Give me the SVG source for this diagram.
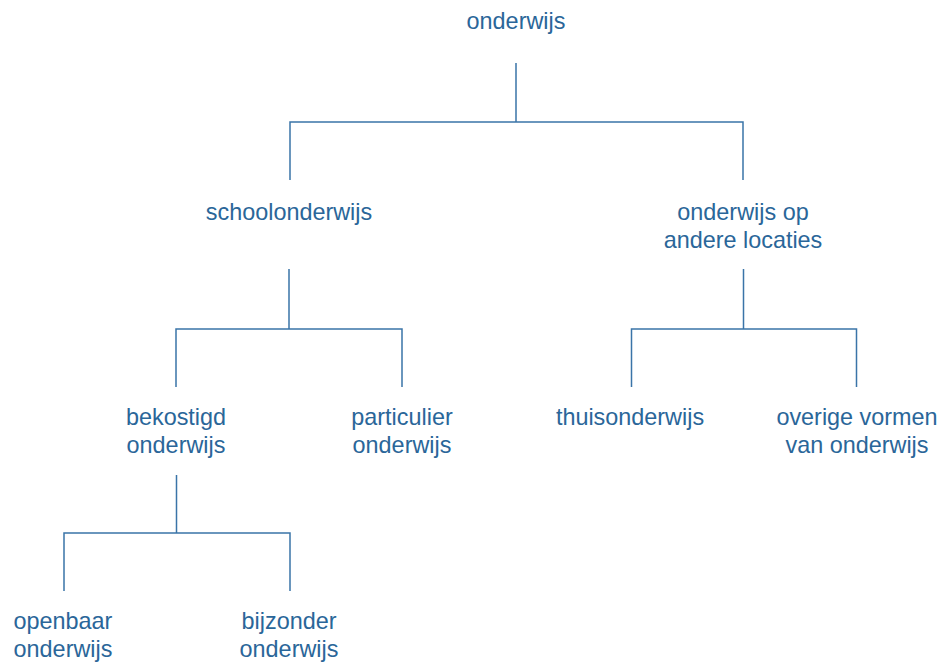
<svg xmlns="http://www.w3.org/2000/svg" width="950" height="666" viewBox="0 0 950 666">
<style>
text{font-family:"Liberation Sans",Arial,sans-serif;font-size:23.4px;fill:#2a6699;text-anchor:middle}
.c{stroke:#3a74a8;stroke-width:1.5;fill:none}
</style>
<rect width="950" height="666" fill="#ffffff"/>
<g id="connectors">
<path class="c" d="M516 63V122M290 180V122H743V180"/>
<path class="c" d="M289 269V329M176 387V329H402V387"/>
<path class="c" d="M743.5 269V329M631.5 387V329H856.5V387"/>
<path class="c" d="M176.5 475V533M64 591V533H290V591"/>
</g>
<g id="n-onderwijs"><text x="516" y="29">onderwijs</text></g>
<g id="n-schoolonderwijs"><text x="289" y="220">schoolonderwijs</text></g>
<g id="n-andere"><text x="743" y="220">onderwijs op</text><text x="743" y="248">andere locaties</text></g>
<g id="n-bekostigd"><text x="176" y="425">bekostigd</text><text x="176" y="453">onderwijs</text></g>
<g id="n-particulier"><text x="402" y="425">particulier</text><text x="402" y="453">onderwijs</text></g>
<g id="n-thuis"><text x="630" y="425">thuisonderwijs</text></g>
<g id="n-overige"><text x="857" y="425">overige vormen</text><text x="857" y="453">van onderwijs</text></g>
<g id="n-openbaar"><text x="63" y="629">openbaar</text><text x="63" y="657">onderwijs</text></g>
<g id="n-bijzonder"><text x="289" y="629">bijzonder</text><text x="289" y="657">onderwijs</text></g>
</svg>
